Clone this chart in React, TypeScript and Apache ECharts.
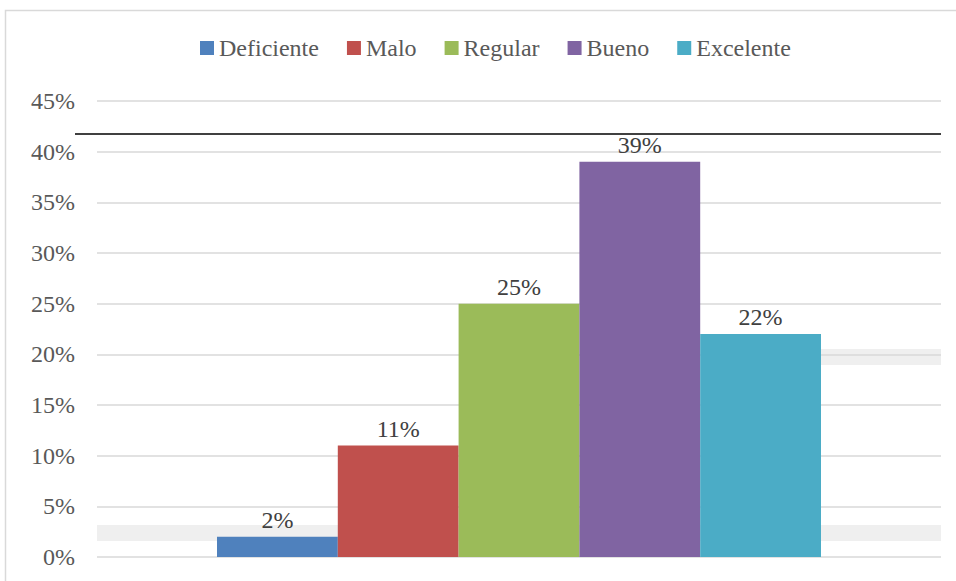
import React, { useEffect, useRef } from "react";
import * as echarts from "echarts";

const categories = ["Calificación"];
const seriesNames = ["Deficiente", "Malo", "Regular", "Bueno", "Excelente"];
const seriesValues = [2, 11, 25, 39, 22];
const seriesColors = ["#4f81bd", "#c0504d", "#9bbb59", "#8064a2", "#4bacc6"];
const yTicks = [0, 5, 10, 15, 20, 25, 30, 35, 40, 45];

const FONT = "Liberation Serif";
const FS = 24;

export default function App() {
  const ref = useRef<HTMLDivElement>(null);
  useEffect(() => {
    if (!ref.current) return;
    const chart = echarts.init(ref.current, undefined, { renderer: "svg" });
    chart.setOption({
      animation: false,
      backgroundColor: "#ffffff",
      textStyle: { fontFamily: FONT },
      legend: {
        top: 31,
        left: 195,
        itemWidth: 14,
        itemHeight: 14,
        itemGap: 28,
        icon: "rect",
        textStyle: { fontFamily: FONT, fontSize: FS, color: "#595959" },
        data: seriesNames,
      },
      grid: { left: 97, right: 15, top: 101, bottom: 24, containLabel: false },
      xAxis: {
        type: "category",
        data: categories,
        axisLine: { show: false },
        axisTick: { show: false },
        axisLabel: { show: false },
      },
      yAxis: {
        type: "value",
        min: yTicks[0],
        max: yTicks[yTicks.length - 1],
        interval: 5,
        axisLine: { show: false },
        axisTick: { show: false },
        axisLabel: {
          formatter: "{value}%",
          fontFamily: FONT,
          fontSize: FS,
          color: "#595959",
          margin: 22,
        },
        splitLine: { lineStyle: { color: "#d9d9d9", width: 1.5 } },
      },
      graphic: [
        {
          type: "rect",
          shape: { x: 5.5, y: 10.5, width: 960, height: 600 },
          style: { fill: "none", stroke: "#d9d9d9", lineWidth: 1.5 },
          z: -10,
        },
        {
          type: "rect",
          shape: { x: 97, y: 525, width: 844, height: 16 },
          style: { fill: "#efefef" },
          z: -5,
        },
        {
          type: "rect",
          shape: { x: 821, y: 349, width: 120, height: 16 },
          style: { fill: "#efefef" },
          z: -5,
        },
        {
          type: "line",
          shape: { x1: 75, y1: 134, x2: 941, y2: 134 },
          style: { stroke: "#404040", lineWidth: 2 },
          z: 100,
        },
      ],
      series: seriesNames.map((name, i) => ({
        name,
        type: "bar",
        data: [seriesValues[i]],
        barWidth: 120.8,
        barGap: "0%",
        itemStyle: { color: seriesColors[i] },
        label: {
          show: true,
          position: "top",
          distance: 5,
          formatter: "{c}%",
          fontFamily: FONT,
          fontSize: FS,
          color: "#404040",
        },
      })),
    });
    return () => chart.dispose();
  }, []);
  return (
    <div
      ref={ref}
      style={{ position: "fixed", left: 0, top: 0, width: 956, height: 581 }}
    />
  );
}
